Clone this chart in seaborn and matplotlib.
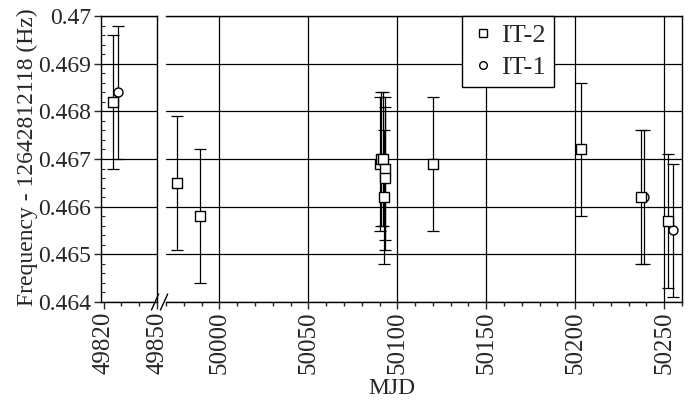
import matplotlib
matplotlib.use("Agg")
import matplotlib.pyplot as plt
import seaborn as sns
import pandas as pd
from matplotlib.lines import Line2D
from matplotlib.ticker import MultipleLocator, FuncFormatter

# IT-2 (squares)
it2_mjd = [49825.5, 49976, 49989, 50090, 50091, 50092, 50093, 50093, 50092.5, 50120, 50203, 50237, 50252]
it2_freq = [0.4682, 0.4665, 0.4658, 0.4669, 0.4670, 0.4670, 0.4668, 0.4666, 0.4662, 0.4669, 0.4672, 0.4662, 0.4657]
it2_err = [0.0014, 0.0014, 0.0014, 0.0014, 0.0014, 0.0014, 0.0015, 0.0015, 0.0014, 0.0014, 0.0014, 0.0014, 0.0014]
# IT-1 (circles)
it1_mjd = [49828, 50238.5, 50255]
it1_freq = [0.4684, 0.4662, 0.4655]
it1_err = [0.0014, 0.0014, 0.0014]

df = pd.concat([
    pd.DataFrame({"MJD": it2_mjd, "freq": it2_freq, "err": it2_err, "set": "IT-2"}),
    pd.DataFrame({"MJD": it1_mjd, "freq": it1_freq, "err": it1_err, "set": "IT-1"}),
], ignore_index=True)

sns.set_style("ticks")
plt.rcParams["font.family"] = "serif"
plt.rcParams["font.serif"] = ["Liberation Serif", "DejaVu Serif"]
FS = 17

fig = plt.figure(figsize=(6.93, 4.0), dpi=100)
W, H = 693.0, 400.0
bot, top = 302, 16
axL = fig.add_axes([101 / W, 1 - bot / H, 56 / W, (bot - top) / H])
axR = fig.add_axes([166 / W, 1 - bot / H, 516 / W, (bot - top) / H])

markers = {"IT-2": "s", "IT-1": "o"}
sizes = {"IT-2": 42, "IT-1": 42}
for ax in (axL, axR):
    for name, g in df.groupby("set"):
        ax.errorbar(g["MJD"], g["freq"], yerr=g["err"], fmt="none",
                    ecolor="black", elinewidth=0.9, capsize=4.5, capthick=0.9, zorder=3)
        sns.scatterplot(data=g, x="MJD", y="freq", marker=markers[name], s=sizes[name],
                        color="white", edgecolor="black", linewidth=1.0, ax=ax,
                        legend=False, zorder=4)
    ax.set_ylim(0.464, 0.47)
    ax.yaxis.set_major_locator(MultipleLocator(0.001))
    ax.yaxis.set_minor_locator(MultipleLocator(0.0002))
    ax.yaxis.set_major_formatter(FuncFormatter(lambda v, p: "%g" % round(v, 4)))
    ax.xaxis.set_minor_locator(MultipleLocator(10))
    ax.grid(True, axis="y", color="black", linewidth=0.9)
    ax.set_xlabel("")
    ax.set_ylabel("")
    for s in ax.spines.values():
        s.set_color("black")
        s.set_linewidth(1.0)
    ax.tick_params(axis="x", which="major", direction="out", length=5, width=1, rotation=90,
                   labelsize=18, pad=2)
    ax.tick_params(axis="x", which="minor", direction="out", length=3, width=1)
    ax.tick_params(axis="y", which="minor", direction="in", length=3, width=0.8)

axL.set_xlim(49818.5, 49850)
axL.set_xticks([49820, 49850])
axL.tick_params(axis="y", which="major", direction="out", length=5, width=1, labelsize=FS, pad=2)

axR.set_xlim(49970, 50260)
axR.set_xticks([50000, 50050, 50100, 50150, 50200, 50250])
axR.grid(True, axis="x", color="black", linewidth=0.9)
axR.spines["left"].set_visible(False)
axR.tick_params(axis="y", which="both", left=False, labelleft=False)

# break marks
d = 0.008
kw = dict(transform=fig.transFigure, color="black", linewidth=1.0, clip_on=False)
for x0 in (157 / W, 166 / W):
    fig.add_artist(Line2D([x0 - d, x0 + d * 0.3], [1 - (bot + 8) / H, 1 - (bot - 8) / H], **kw))

fig.text(27 / W, 1 - 157 / H, "Frequency - 12642812118 (Hz)", rotation=90,
         ha="center", va="center", fontsize=FS)
fig.text(392 / W, 1 - 388 / H, "MJD", ha="center", va="center", fontsize=FS)

handles = [
    Line2D([], [], marker="s", linestyle="none", markerfacecolor="white",
           markeredgecolor="black", markersize=5.5, label="IT-2"),
    Line2D([], [], marker="o", linestyle="none", markerfacecolor="white",
           markeredgecolor="black", markersize=5.5, label="IT-1"),
]
leg = axR.legend(handles=handles, loc="upper left", bbox_to_anchor=(462 / W, 1 - 16 / H),
                 bbox_transform=fig.transFigure, borderaxespad=0, fancybox=False, framealpha=1,
                 edgecolor="black", fontsize=19, handletextpad=0.2, borderpad=0.3,
                 labelspacing=0.3, handlelength=1.0)
leg.get_frame().set_linewidth(1.0)

fig.savefig("out.png", dpi=100)
